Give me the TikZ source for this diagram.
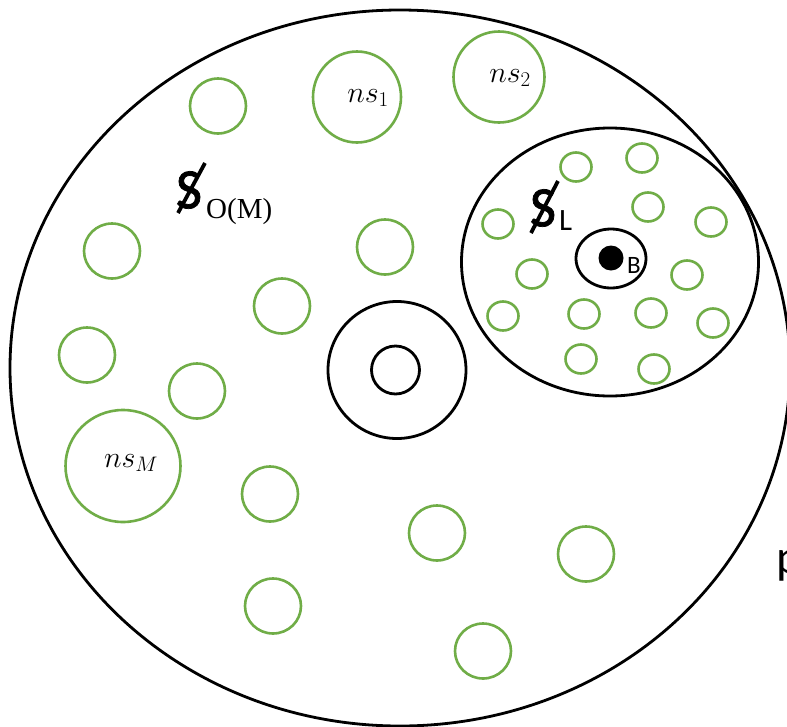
\RequirePackage{fix-cm}
\documentclass[tikz,border=0pt]{standalone}
\usepackage{fontspec}
\newfontfamily\carlito{Carlito}
\newfontfamily\carlitoS[FakeBold=1.3]{Carlito}
\newfontfamily\timesf{Liberation Serif}
\usetikzlibrary{shapes.geometric}
\definecolor{sgreen}{HTML}{70AD47}
\begin{document}
\begin{tikzpicture}[x=1pt,y=-1pt,
  ring/.style={draw=black,line width=2.8pt,ellipse,inner sep=0pt},
  gc/.style={draw=sgreen,line width=2.6pt,ellipse,inner sep=0pt},
  gm/.style={gc,minimum width=56pt,minimum height=55pt},
  gt/.style={gc,minimum width=31pt,minimum height=29pt},
  lbl/.style={inner sep=0pt,anchor=base west},
  slash/.style={line width=3.8pt}]
\useasboundingbox (0,0) rectangle (787,726);
\clip (0,0) rectangle (787,726);
\fill[white] (0,0) rectangle (787,726);
% main region
\node[ring,minimum width=780pt,minimum height=716pt] (main) at (400,368) {};
% L region
\node[ring,minimum width=297pt,minimum height=268pt] (Lreg) at (610,262) {};
% B
\node[ring,minimum width=70pt,minimum height=59pt] (Bring) at (611,258.5) {};
\node[circle,fill=black,inner sep=0pt,minimum size=25pt] (Bdot) at (611,258) {};
\node[lbl] (Blbl) at (627,273) {\fontsize{25}{28}\selectfont\carlito B};
% centre rings
\node[ring,minimum width=138pt,minimum height=137pt] (cout) at (397,370) {};
\node[ring,minimum width=48pt,minimum height=48pt] (cin) at (395.5,370) {};
% large green circles
\node[gc,minimum width=88pt,minimum height=91pt] (ns1) at (357,97) {};
\node[gc,minimum width=91pt,minimum height=91pt] (ns2) at (499,77) {};
\node[gc,minimum width=115pt,minimum height=112pt] (nsM) at (123,466) {};
\node[inner sep=0pt] (ns1l) at (368,98) {\fontsize{30}{34}\selectfont$ns_1$};
\node[inner sep=0pt] (ns2l) at (510,78) {\fontsize{30}{34}\selectfont$ns_2$};
\node[inner sep=0pt] (nsMl) at (131,463) {\fontsize{30}{34}\selectfont$ns_M$};
% medium green circles
\node[gm] (g1) at (218,106) {};
\node[gm] (g2) at (112,251) {};
\node[gm] (g3) at (385,247) {};
\node[gm] (g4) at (282,306) {};
\node[gm] (g5) at (87,355) {};
\node[gm] (g6) at (197,391) {};
\node[gm] (g7) at (270,494) {};
\node[gm] (g8) at (437,533) {};
\node[gm] (g9) at (586,554) {};
\node[gm] (g10) at (273,606) {};
\node[gm] (g11) at (483,651) {};
% small green circles in L
\node[gt] (t1) at (576,167) {};
\node[gt] (t2) at (642,158) {};
\node[gt] (t3) at (498,224) {};
\node[gt] (t4) at (648,207) {};
\node[gt] (t5) at (711,222) {};
\node[gt] (t6) at (532,274) {};
\node[gt] (t7) at (687,275) {};
\node[gt] (t8) at (503,316) {};
\node[gt] (t9) at (584,314) {};
\node[gt] (t10) at (651,313) {};
\node[gt] (t11) at (713,323) {};
\node[gt] (t12) at (581,359) {};
\node[gt] (t13) at (654,369) {};
% struck S labels
\node[inner sep=0pt] (SL) at (543,208) {\fontsize{57}{62}\selectfont\carlitoS S};
\draw[slash] (558,181) -- (531,233);
\node[lbl] (SLsub) at (559,230) {\fontsize{31}{34}\selectfont\carlito L};
\node[inner sep=0pt] (SO) at (189,190) {\fontsize{57}{62}\selectfont\carlitoS S};
\draw[slash] (205,163) -- (178,213);
\node[lbl] (SOsub) at (206,218) {\fontsize{29}{32}\selectfont\timesf O(M)};
% cut-off text at right edge
\node[lbl] (ptxt) at (776,573) {\fontsize{48}{52}\selectfont\carlito p};
\end{tikzpicture}
\end{document}
